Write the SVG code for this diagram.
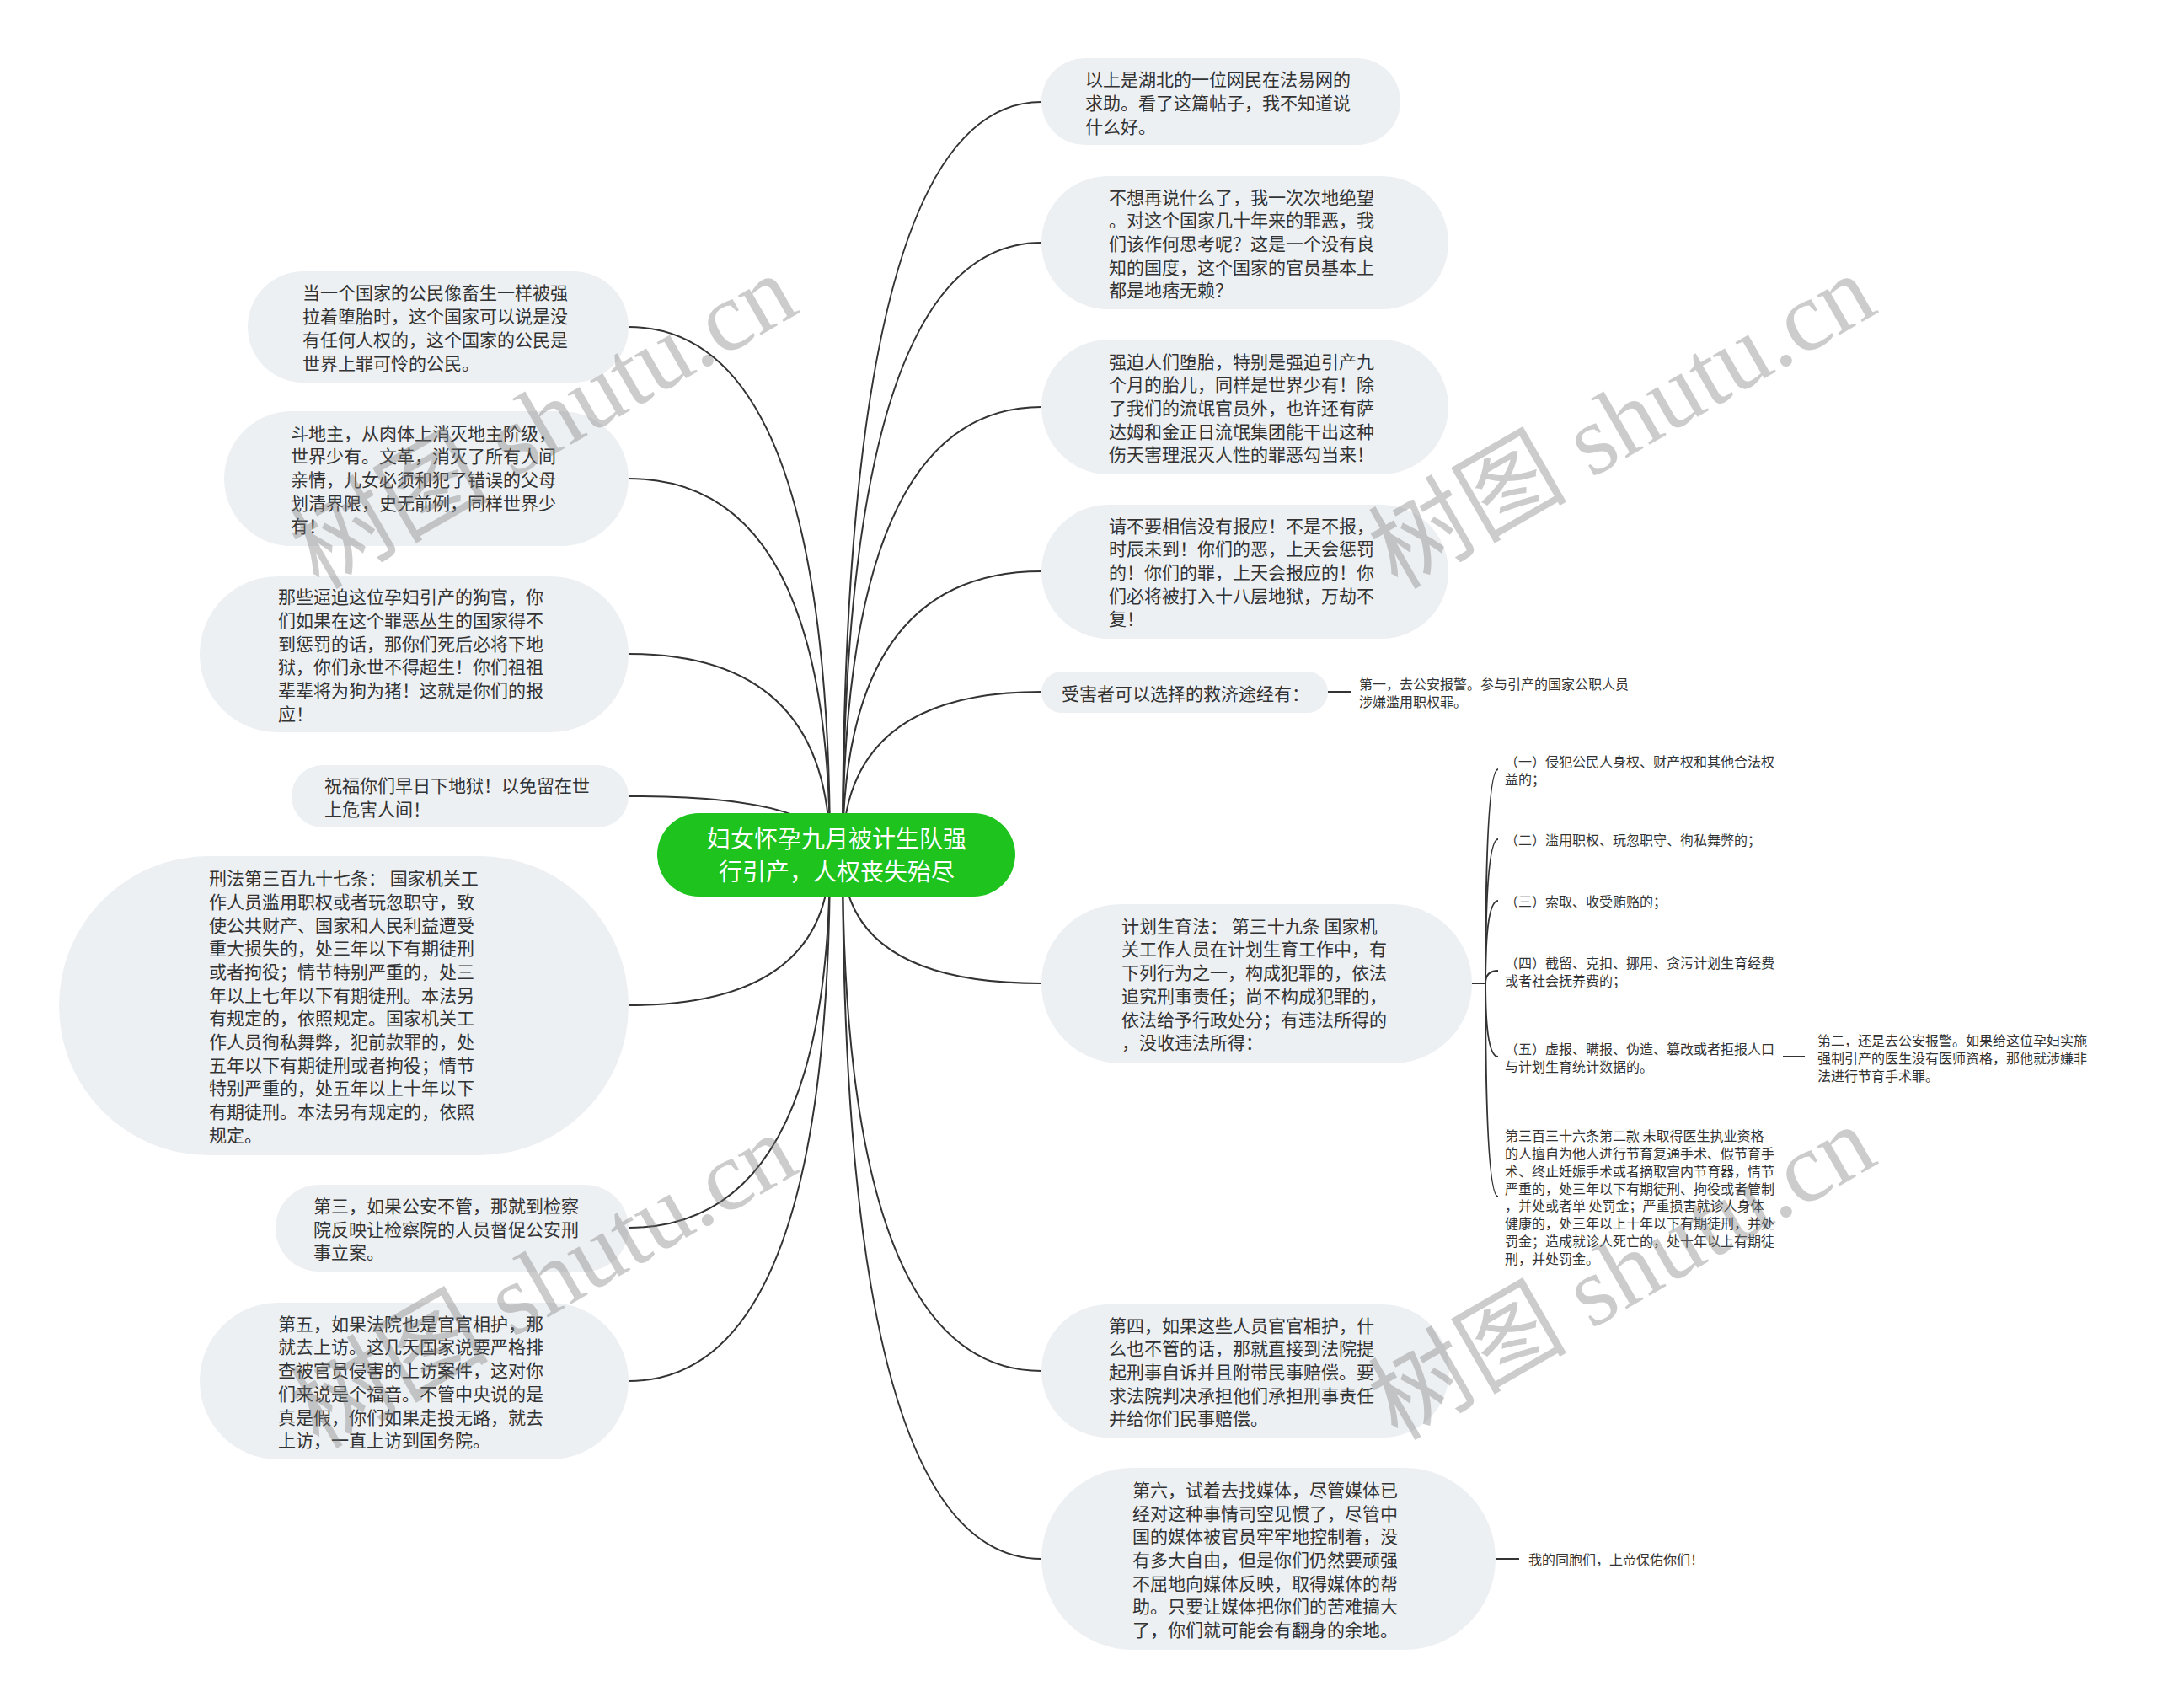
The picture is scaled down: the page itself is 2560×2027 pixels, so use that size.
<svg xmlns="http://www.w3.org/2000/svg" width="2560" height="2027" viewBox="0 0 2560 2027">
<style>
.bg{fill:#ffffff}
.n rect{fill:#edf0f3}
.t{font-family:"Noto Sans CJK SC","Noto Sans",sans-serif;font-size:21px;fill:#333333;dominant-baseline:central}
.s{font-family:"Noto Sans CJK SC","Noto Sans",sans-serif;font-size:16px;fill:#333333;dominant-baseline:central}
.root rect{fill:#1ec31e}
.rt{font-family:"Noto Sans CJK SC","Noto Sans",sans-serif;font-size:28px;fill:#ffffff;dominant-baseline:central;text-anchor:middle}
.c path{fill:none;stroke:#333333;stroke-width:2}
.wm{font-family:"Liberation Serif","Noto Sans CJK SC",serif;font-size:118px;fill:#7a7a7a;fill-opacity:0.38;text-anchor:middle}
</style>
<rect class="bg" x="0" y="0" width="2560" height="2027"/>
<g id="connectors" class="c">
<path d="M1000 1013 Q1000 121 1236 121"/>
<path d="M1000 1013 Q1000 288 1236 288"/>
<path d="M1000 1013 Q1000 483 1236 483"/>
<path d="M1000 1013 Q1000 678 1236 678"/>
<path d="M1000 1013 Q1000 821 1236 821"/>
<path d="M1000 1013 Q1000 1167 1236 1167"/>
<path d="M1000 1013 Q1000 1627 1236 1627"/>
<path d="M1000 1013 Q1000 1850 1236 1850"/>
<path d="M985 1013 Q985 388 746 388"/>
<path d="M985 1013 Q985 568 746 568"/>
<path d="M985 1013 Q985 776 746 776"/>
<path d="M985 1013 Q985 945 746 945"/>
<path d="M985 1013 Q985 1193 746 1193"/>
<path d="M985 1013 Q985 1457 746 1457"/>
<path d="M985 1013 Q985 1639 746 1639"/>
<path d="M1576 821 H1604"/>
<path d="M1747 1167 H1763"/>
<path d="M1763 1167 Q1763 913 1778 913"/>
<path d="M1763 1167 Q1763 996 1778 996"/>
<path d="M1763 1167 Q1763 1069 1778 1069"/>
<path d="M1763 1167 Q1763 1152 1778 1152"/>
<path d="M1763 1167 Q1763 1254 1778 1254"/>
<path d="M1763 1167 Q1763 1420 1778 1420"/>
<path d="M2116 1254 H2142"/>
<path d="M1775 1850 H1803"/>
</g>
<g id="root" class="root">
<rect x="780" y="965" width="425" height="99" rx="49.5"/>
<text class="rt"><tspan x="993" y="994">妇女怀孕九月被计生队强</tspan><tspan x="993" y="1033">行引产，人权丧失殆尽</tspan></text>
</g>
<g id="r1" class="n">
<rect x="1236" y="69" width="426" height="103" rx="51.5"/>
<text class="t"><tspan x="1288" y="93.3">以上是湖北的一位网民在法易网的</tspan><tspan x="1288" y="121">求助。看了这篇帖子，我不知道说</tspan><tspan x="1288" y="148.7">什么好。</tspan></text>
</g>
<g id="r2" class="n">
<rect x="1236" y="209" width="483" height="158" rx="79"/>
<text class="t"><tspan x="1316" y="232.6">不想再说什么了，我一次次地绝望</tspan><tspan x="1316" y="260.3">。对这个国家几十年来的罪恶，我</tspan><tspan x="1316" y="288">们该作何思考呢？这是一个没有良</tspan><tspan x="1316" y="315.7">知的国度，这个国家的官员基本上</tspan><tspan x="1316" y="343.4">都是地痞无赖？</tspan></text>
</g>
<g id="r3" class="n">
<rect x="1236" y="403" width="483" height="160" rx="80"/>
<text class="t"><tspan x="1316" y="427.6">强迫人们堕胎，特别是强迫引产九</tspan><tspan x="1316" y="455.3">个月的胎儿，同样是世界少有！除</tspan><tspan x="1316" y="483">了我们的流氓官员外，也许还有萨</tspan><tspan x="1316" y="510.7">达姆和金正日流氓集团能干出这种</tspan><tspan x="1316" y="538.4">伤天害理泯灭人性的罪恶勾当来！</tspan></text>
</g>
<g id="r4" class="n">
<rect x="1236" y="599" width="483" height="159" rx="79.5"/>
<text class="t"><tspan x="1316" y="622.6">请不要相信没有报应！不是不报，</tspan><tspan x="1316" y="650.3">时辰未到！你们的恶，上天会惩罚</tspan><tspan x="1316" y="678">的！你们的罪，上天会报应的！你</tspan><tspan x="1316" y="705.7">们必将被打入十八层地狱，万劫不</tspan><tspan x="1316" y="733.4">复！</tspan></text>
</g>
<g id="r5" class="n">
<rect x="1236" y="797" width="340" height="49" rx="24.5"/>
<text class="t"><tspan x="1260" y="821.5">受害者可以选择的救济途经有：</tspan></text>
</g>
<g id="r5c">
<text class="s"><tspan x="1613" y="811.1">第一，去公安报警。参与引产的国家公职人员</tspan><tspan x="1613" y="831.9">涉嫌滥用职权罪。</tspan></text>
</g>
<g id="r6" class="n">
<rect x="1236" y="1073" width="511" height="189" rx="94.5"/>
<text class="t"><tspan x="1331" y="1097.75">计划生育法： 第三十九条 国家机</tspan><tspan x="1331" y="1125.45">关工作人员在计划生育工作中，有</tspan><tspan x="1331" y="1153.15">下列行为之一，构成犯罪的，依法</tspan><tspan x="1331" y="1180.85">追究刑事责任；尚不构成犯罪的，</tspan><tspan x="1331" y="1208.55">依法给予行政处分；有违法所得的</tspan><tspan x="1331" y="1236.25">，没收违法所得：</tspan></text>
</g>
<g id="r6c1"><text class="s"><tspan x="1786" y="903">（一）侵犯公民人身权、财产权和其他合法权</tspan><tspan x="1786" y="924">益的；</tspan></text></g>
<g id="r6c2"><text class="s"><tspan x="1786" y="996">（二）滥用职权、玩忽职守、徇私舞弊的；</tspan></text></g>
<g id="r6c3"><text class="s"><tspan x="1786" y="1069">（三）索取、收受贿赂的；</tspan></text></g>
<g id="r6c4"><text class="s"><tspan x="1786" y="1141.5">（四）截留、克扣、挪用、贪污计划生育经费</tspan><tspan x="1786" y="1162.5">或者社会抚养费的；</tspan></text></g>
<g id="r6c5"><text class="s"><tspan x="1786" y="1244">（五）虚报、瞒报、伪造、篡改或者拒报人口</tspan><tspan x="1786" y="1265">与计划生育统计数据的。</tspan></text></g>
<g id="r6c5a"><text class="s"><tspan x="2157" y="1234.2">第二，还是去公安报警。如果给这位孕妇实施</tspan><tspan x="2157" y="1255">强制引产的医生没有医师资格，那他就涉嫌非</tspan><tspan x="2157" y="1275.8">法进行节育手术罪。</tspan></text></g>
<g id="r6c6"><text class="s"><tspan x="1786" y="1347.2">第三百三十六条第二款 未取得医生执业资格</tspan><tspan x="1786" y="1368">的人擅自为他人进行节育复通手术、假节育手</tspan><tspan x="1786" y="1388.8">术、终止妊娠手术或者摘取宫内节育器，情节</tspan><tspan x="1786" y="1409.6">严重的，处三年以下有期徒刑、拘役或者管制</tspan><tspan x="1786" y="1430.4">，并处或者单 处罚金；严重损害就诊人身体</tspan><tspan x="1786" y="1451.2">健康的，处三年以上十年以下有期徒刑，并处</tspan><tspan x="1786" y="1472">罚金；造成就诊人死亡的，处十年以上有期徒</tspan><tspan x="1786" y="1492.8">刑，并处罚金。</tspan></text></g>
<g id="r7" class="n">
<rect x="1236" y="1548" width="484" height="158" rx="79"/>
<text class="t"><tspan x="1316" y="1571.6">第四，如果这些人员官官相护，什</tspan><tspan x="1316" y="1599.3">么也不管的话，那就直接到法院提</tspan><tspan x="1316" y="1627">起刑事自诉并且附带民事赔偿。要</tspan><tspan x="1316" y="1654.7">求法院判决承担他们承担刑事责任</tspan><tspan x="1316" y="1682.4">并给你们民事赔偿。</tspan></text>
</g>
<g id="r8" class="n">
<rect x="1236" y="1742" width="539" height="216" rx="108"/>
<text class="t"><tspan x="1344" y="1766.9">第六，试着去找媒体，尽管媒体已</tspan><tspan x="1344" y="1794.6">经对这种事情司空见惯了，尽管中</tspan><tspan x="1344" y="1822.3">国的媒体被官员牢牢地控制着，没</tspan><tspan x="1344" y="1850">有多大自由，但是你们仍然要顽强</tspan><tspan x="1344" y="1877.7">不屈地向媒体反映，取得媒体的帮</tspan><tspan x="1344" y="1905.4">助。只要让媒体把你们的苦难搞大</tspan><tspan x="1344" y="1933.1">了，你们就可能会有翻身的余地。</tspan></text>
</g>
<g id="r8c"><text class="s"><tspan x="1814" y="1850">我的同胞们，上帝保佑你们！</tspan></text></g>
<g id="l1" class="n">
<rect x="294" y="322" width="452" height="132" rx="66"/>
<text class="t"><tspan x="359" y="346.45">当一个国家的公民像畜生一样被强</tspan><tspan x="359" y="374.15">拉着堕胎时，这个国家可以说是没</tspan><tspan x="359" y="401.85">有任何人权的，这个国家的公民是</tspan><tspan x="359" y="429.55">世界上罪可怜的公民。</tspan></text>
</g>
<g id="l2" class="n">
<rect x="266" y="488" width="480" height="160" rx="80"/>
<text class="t"><tspan x="345" y="512.6">斗地主，从肉体上消灭地主阶级，</tspan><tspan x="345" y="540.3">世界少有。文革，消灭了所有人间</tspan><tspan x="345" y="568">亲情，儿女必须和犯了错误的父母</tspan><tspan x="345" y="595.7">划清界限，史无前例，同样世界少</tspan><tspan x="345" y="623.4">有！</tspan></text>
</g>
<g id="l3" class="n">
<rect x="237" y="684" width="509" height="185" rx="92.5"/>
<text class="t"><tspan x="330" y="707.25">那些逼迫这位孕妇引产的狗官，你</tspan><tspan x="330" y="734.95">们如果在这个罪恶丛生的国家得不</tspan><tspan x="330" y="762.65">到惩罚的话，那你们死后必将下地</tspan><tspan x="330" y="790.35">狱，你们永世不得超生！你们祖祖</tspan><tspan x="330" y="818.05">辈辈将为狗为猪！这就是你们的报</tspan><tspan x="330" y="845.75">应！</tspan></text>
</g>
<g id="l4" class="n">
<rect x="346" y="908" width="400" height="74" rx="37"/>
<text class="t"><tspan x="385" y="931.15">祝福你们早日下地狱！以免留在世</tspan><tspan x="385" y="958.85">上危害人间！</tspan></text>
</g>
<g id="l5" class="n">
<rect x="70" y="1016" width="676" height="355" rx="177.5"/>
<text class="t"><tspan x="248" y="1041.15">刑法第三百九十七条： 国家机关工</tspan><tspan x="248" y="1068.85">作人员滥用职权或者玩忽职守，致</tspan><tspan x="248" y="1096.55">使公共财产、国家和人民利益遭受</tspan><tspan x="248" y="1124.25">重大损失的，处三年以下有期徒刑</tspan><tspan x="248" y="1151.95">或者拘役；情节特别严重的，处三</tspan><tspan x="248" y="1179.65">年以上七年以下有期徒刑。本法另</tspan><tspan x="248" y="1207.35">有规定的，依照规定。国家机关工</tspan><tspan x="248" y="1235.05">作人员徇私舞弊，犯前款罪的，处</tspan><tspan x="248" y="1262.75">五年以下有期徒刑或者拘役；情节</tspan><tspan x="248" y="1290.45">特别严重的，处五年以上十年以下</tspan><tspan x="248" y="1318.15">有期徒刑。本法另有规定的，依照</tspan><tspan x="248" y="1345.85">规定。</tspan></text>
</g>
<g id="l6" class="n">
<rect x="327" y="1406" width="419" height="103" rx="51.5"/>
<text class="t"><tspan x="372" y="1429.8">第三，如果公安不管，那就到检察</tspan><tspan x="372" y="1457.5">院反映让检察院的人员督促公安刑</tspan><tspan x="372" y="1485.2">事立案。</tspan></text>
</g>
<g id="l7" class="n">
<rect x="237" y="1546" width="509" height="186" rx="93"/>
<text class="t"><tspan x="330" y="1569.75">第五，如果法院也是官官相护，那</tspan><tspan x="330" y="1597.45">就去上访。这几天国家说要严格排</tspan><tspan x="330" y="1625.15">查被官员侵害的上访案件，这对你</tspan><tspan x="330" y="1652.85">们来说是个福音。不管中央说的是</tspan><tspan x="330" y="1680.55">真是假，你们如果走投无路，就去</tspan><tspan x="330" y="1708.25">上访，一直上访到国务院。</tspan></text>
</g>
<g id="watermarks">
<text class="wm" transform="translate(665,535) rotate(-30)">树图 shutu.cn</text>
<text class="wm" transform="translate(1945,535) rotate(-30)">树图 shutu.cn</text>
<text class="wm" transform="translate(665,1555) rotate(-30)">树图 shutu.cn</text>
<text class="wm" transform="translate(1945,1545) rotate(-30)">树图 shutu.cn</text>
</g>
</svg>
